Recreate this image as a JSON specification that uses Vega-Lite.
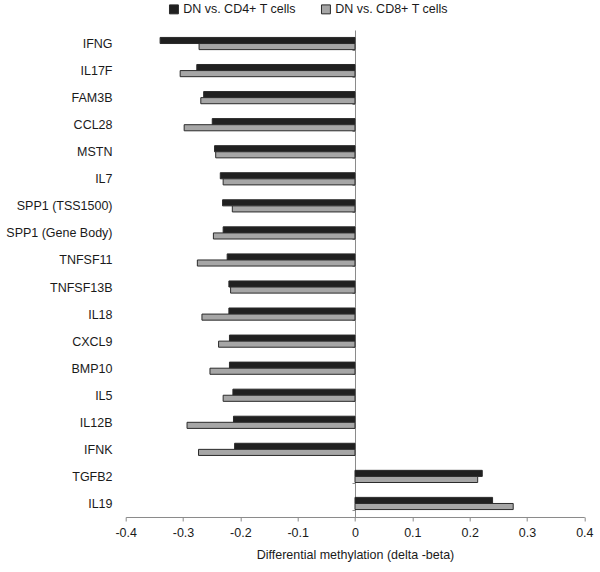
{
  "$schema": "https://vega.github.io/schema/vega-lite/v6.json",
  "width": 458.6,
  "height": 487,
  "autosize": {"type": "none"},
  "padding": {"left": 125.7, "top": 30, "right": 16, "bottom": 55},
  "config": {
    "font": "Liberation Sans",
    "view": {"stroke": null},
    "axis": {"labelFont": "Liberation Sans", "titleFont": "Liberation Sans", "labelColor": "#1a1a1a", "titleColor": "#1a1a1a", "grid": false}
  },
  "data": {
    "values": [
      {"gene": "IFNG", "series": "DN vs. CD4+ T cells", "value": -0.340},
      {"gene": "IFNG", "series": "DN vs. CD8+ T cells", "value": -0.272},
      {"gene": "IL17F", "series": "DN vs. CD4+ T cells", "value": -0.276},
      {"gene": "IL17F", "series": "DN vs. CD8+ T cells", "value": -0.305},
      {"gene": "FAM3B", "series": "DN vs. CD4+ T cells", "value": -0.264},
      {"gene": "FAM3B", "series": "DN vs. CD8+ T cells", "value": -0.269},
      {"gene": "CCL28", "series": "DN vs. CD4+ T cells", "value": -0.249},
      {"gene": "CCL28", "series": "DN vs. CD8+ T cells", "value": -0.298},
      {"gene": "MSTN", "series": "DN vs. CD4+ T cells", "value": -0.245},
      {"gene": "MSTN", "series": "DN vs. CD8+ T cells", "value": -0.243},
      {"gene": "IL7", "series": "DN vs. CD4+ T cells", "value": -0.235},
      {"gene": "IL7", "series": "DN vs. CD8+ T cells", "value": -0.230},
      {"gene": "SPP1 (TSS1500)", "series": "DN vs. CD4+ T cells", "value": -0.231},
      {"gene": "SPP1 (TSS1500)", "series": "DN vs. CD8+ T cells", "value": -0.214},
      {"gene": "SPP1 (Gene Body)", "series": "DN vs. CD4+ T cells", "value": -0.230},
      {"gene": "SPP1 (Gene Body)", "series": "DN vs. CD8+ T cells", "value": -0.247},
      {"gene": "TNFSF11", "series": "DN vs. CD4+ T cells", "value": -0.223},
      {"gene": "TNFSF11", "series": "DN vs. CD8+ T cells", "value": -0.275},
      {"gene": "TNFSF13B", "series": "DN vs. CD4+ T cells", "value": -0.220},
      {"gene": "TNFSF13B", "series": "DN vs. CD8+ T cells", "value": -0.217},
      {"gene": "IL18", "series": "DN vs. CD4+ T cells", "value": -0.220},
      {"gene": "IL18", "series": "DN vs. CD8+ T cells", "value": -0.267},
      {"gene": "CXCL9", "series": "DN vs. CD4+ T cells", "value": -0.219},
      {"gene": "CXCL9", "series": "DN vs. CD8+ T cells", "value": -0.238},
      {"gene": "BMP10", "series": "DN vs. CD4+ T cells", "value": -0.219},
      {"gene": "BMP10", "series": "DN vs. CD8+ T cells", "value": -0.253},
      {"gene": "IL5", "series": "DN vs. CD4+ T cells", "value": -0.213},
      {"gene": "IL5", "series": "DN vs. CD8+ T cells", "value": -0.230},
      {"gene": "IL12B", "series": "DN vs. CD4+ T cells", "value": -0.212},
      {"gene": "IL12B", "series": "DN vs. CD8+ T cells", "value": -0.293},
      {"gene": "IFNK", "series": "DN vs. CD4+ T cells", "value": -0.210},
      {"gene": "IFNK", "series": "DN vs. CD8+ T cells", "value": -0.273},
      {"gene": "TGFB2", "series": "DN vs. CD4+ T cells", "value": 0.222},
      {"gene": "TGFB2", "series": "DN vs. CD8+ T cells", "value": 0.214},
      {"gene": "IL19", "series": "DN vs. CD4+ T cells", "value": 0.240},
      {"gene": "IL19", "series": "DN vs. CD8+ T cells", "value": 0.276}
    ]
  },
  "mark": {"type": "bar", "stroke": "#2a2a2a", "strokeWidth": 1},
  "encoding": {
    "y": {
      "field": "gene",
      "type": "nominal",
      "sort": null,
      "scale": {"paddingInner": 0.55, "paddingOuter": 0.275},
      "axis": {
        "title": null,
        "orient": "left",
        "offset": -229.3,
        "domainColor": "#8a8a8a",
        "tickColor": "#8a8a8a",
        "tickSize": 3,
        "tickBand": "extent",
        "labelPadding": 240,
        "labelFontSize": 12.5
      }
    },
    "yOffset": {"field": "series", "type": "nominal"},
    "x": {
      "field": "value",
      "type": "quantitative",
      "scale": {"domain": [-0.4, 0.4], "nice": false, "zero": false},
      "axis": {
        "title": "Differential methylation (delta -beta)",
        "titleFontSize": 12.5,
        "titleFontWeight": "normal",
        "titlePadding": 9,
        "values": [-0.4, -0.3, -0.2, -0.1, 0, 0.1, 0.2, 0.3, 0.4],
        "format": ".1~f",
        "labelExpr": "datum.value == 0 ? '0' : replace(datum.label, '\u2212', '-')",
        "domainColor": "#8a8a8a",
        "tickColor": "#8a8a8a",
        "tickSize": 4,
        "labelPadding": 6,
        "labelFontSize": 12.5,
        "labelFlush": false
      }
    },
    "color": {
      "field": "series",
      "type": "nominal",
      "scale": {"domain": ["DN vs. CD4+ T cells", "DN vs. CD8+ T cells"], "range": ["#202020", "#a6a6a6"]},
      "legend": {
        "title": null,
        "orient": "none",
        "direction": "horizontal",
        "legendX": 42,
        "legendY": -27,
        "symbolType": "square",
        "symbolSize": 80,
        "symbolStrokeColor": "#2a2a2a",
        "symbolStrokeWidth": 1,
        "labelFontSize": 12.5,
        "labelColor": "#1a1a1a",
        "labelOffset": 3,
        "columnPadding": 22
      }
    }
  }
}
